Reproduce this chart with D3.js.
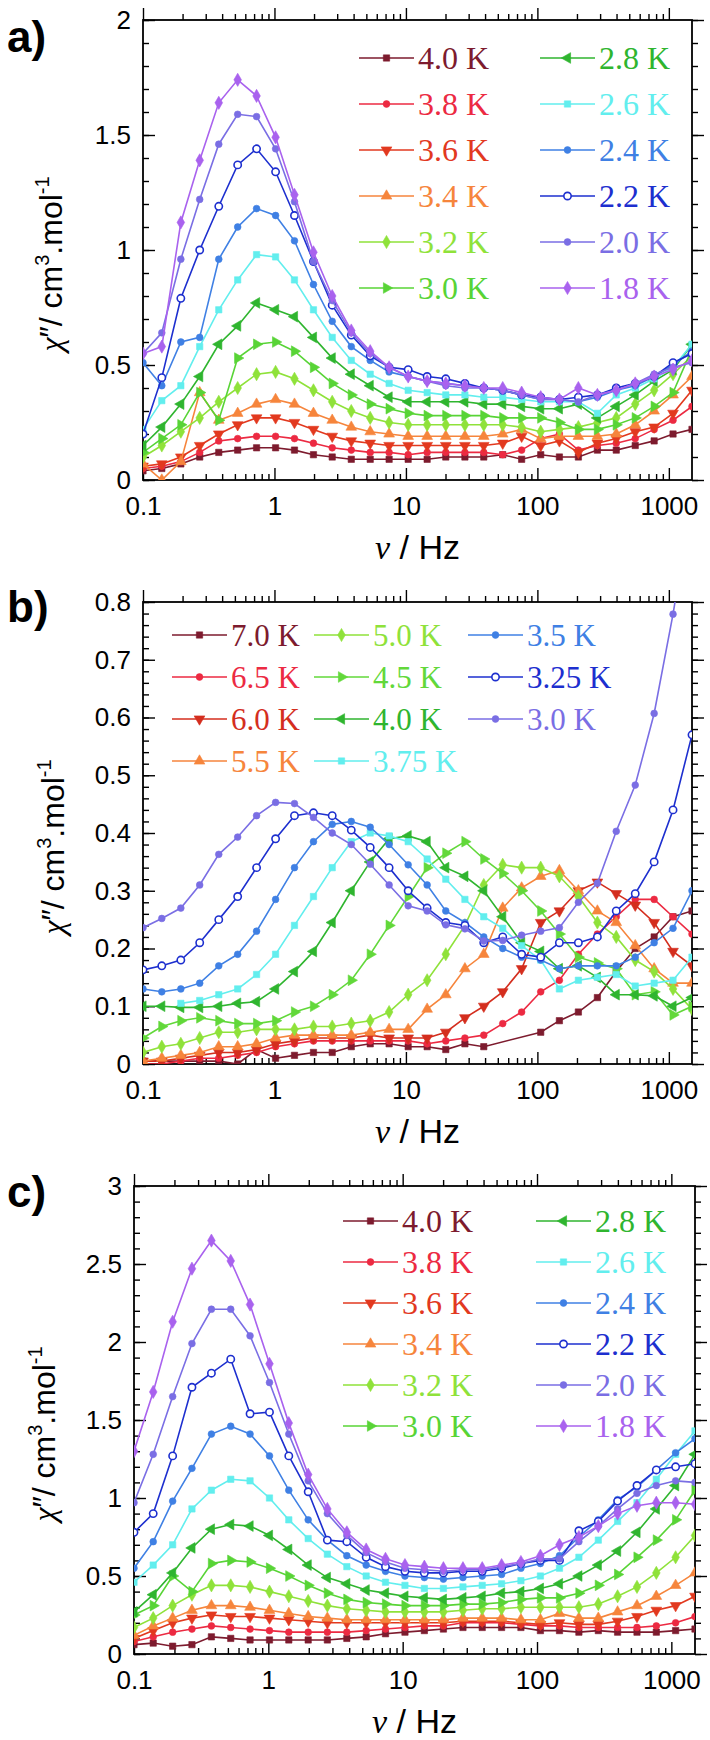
<!DOCTYPE html>
<html>
<head>
<meta charset="utf-8">
<script src="https://cdn.jsdelivr.net/npm/d3@7"></script>
<style>
  body { margin: 0; background: #fff; }
</style>
</head>
<body>
<div id="fig"></div>
<script>
// frequencies (Hz), shared by all panels
const freqs = [0.1, 0.139, 0.194, 0.27, 0.377, 0.525, 0.731, 1.02, 1.42, 1.98, 2.75, 3.84, 5.35, 7.45, 10.4,
  14.5, 20.1, 28.1, 39.1, 54.5, 75.9, 106, 147, 205, 286, 398, 555, 773, 1076, 1500]

// ---- panel a ----
const tempsA = ["4.0 K", "3.8 K", "3.6 K", "3.4 K", "3.2 K", "3.0 K", "2.8 K", "2.6 K", "2.4 K", "2.2 K", "2.0 K", "1.8 K"]
const a40 = [0.04, 0.05, 0.07, 0.10, 0.12, 0.13, 0.14, 0.14, 0.13, 0.11, 0.10, 0.09, 0.09, 0.09, 0.09, 0.09, 0.10, 0.10, 0.10, 0.11, 0.09, 0.11, 0.10, 0.10, 0.13, 0.13, 0.15, 0.17, 0.20, 0.22]
const a38 = [0.05, 0.06, 0.08, 0.12, 0.17, 0.18, 0.19, 0.19, 0.18, 0.16, 0.14, 0.13, 0.12, 0.12, 0.11, 0.12, 0.12, 0.12, 0.12, 0.11, 0.13, 0.18, 0.20, 0.13, 0.15, 0.16, 0.18, 0.22, 0.26, 0.32]
const a36 = [0.06, 0.07, 0.10, 0.15, 0.20, 0.24, 0.27, 0.27, 0.25, 0.22, 0.19, 0.17, 0.16, 0.15, 0.15, 0.15, 0.15, 0.15, 0.15, 0.16, 0.19, 0.15, 0.17, 0.12, 0.16, 0.18, 0.21, 0.23, 0.29, 0.39]
const a34 = [0.07, 0.0, 0.08, 0.38, 0.26, 0.29, 0.33, 0.35, 0.33, 0.29, 0.26, 0.23, 0.21, 0.20, 0.19, 0.19, 0.19, 0.19, 0.19, 0.20, 0.22, 0.18, 0.19, 0.19, 0.19, 0.20, 0.24, 0.30, 0.37, 0.45]
const a32 = [0.10, 0.15, 0.21, 0.27, 0.34, 0.40, 0.46, 0.47, 0.44, 0.39, 0.34, 0.30, 0.27, 0.25, 0.24, 0.24, 0.24, 0.24, 0.24, 0.24, 0.23, 0.21, 0.22, 0.23, 0.25, 0.27, 0.33, 0.39, 0.46, 0.54]
const a30 = [0.12, 0.18, 0.24, 0.38, 0.26, 0.53, 0.59, 0.60, 0.56, 0.49, 0.42, 0.37, 0.33, 0.31, 0.29, 0.28, 0.28, 0.28, 0.28, 0.27, 0.27, 0.27, 0.25, 0.22, 0.22, 0.24, 0.27, 0.32, 0.38, 0.57]
const a28 = [0.15, 0.23, 0.33, 0.45, 0.59, 0.67, 0.77, 0.74, 0.71, 0.62, 0.53, 0.46, 0.41, 0.36, 0.34, 0.34, 0.34, 0.34, 0.33, 0.33, 0.32, 0.31, 0.31, 0.33, 0.27, 0.32, 0.37, 0.43, 0.48, 0.59]
const a26 = [0.22, 0.345, 0.41, 0.58, 0.74, 0.87, 0.98, 0.97, 0.87, 0.74, 0.62, 0.52, 0.46, 0.42, 0.39, 0.38, 0.37, 0.37, 0.36, 0.36, 0.35, 0.34, 0.34, 0.34, 0.29, 0.37, 0.40, 0.44, 0.49, 0.59]
const a24 = [0.51, 0.41, 0.60, 0.62, 0.96, 1.10, 1.18, 1.15, 1.04, 0.85, 0.69, 0.58, 0.52, 0.47, 0.45, 0.43, 0.42, 0.41, 0.40, 0.39, 0.37, 0.35, 0.35, 0.34, 0.36, 0.39, 0.41, 0.45, 0.50, 0.56]
const a22 = [0.20, 0.445, 0.79, 1.00, 1.19, 1.37, 1.44, 1.34, 1.15, 0.95, 0.76, 0.63, 0.54, 0.49, 0.48, 0.45, 0.44, 0.42, 0.40, 0.39, 0.37, 0.36, 0.35, 0.36, 0.37, 0.40, 0.42, 0.45, 0.51, 0.55]
const a20 = [0.55, 0.64, 0.96, 1.22, 1.46, 1.59, 1.58, 1.44, 1.21, 0.95, 0.78, 0.64, 0.55, 0.49, 0.45, 0.43, 0.41, 0.40, 0.40, 0.39, 0.37, 0.35, 0.35, 0.34, 0.37, 0.39, 0.42, 0.46, 0.49, 0.51]
const a18 = [0.55, 0.58, 1.12, 1.39, 1.64, 1.74, 1.67, 1.49, 1.24, 0.99, 0.80, 0.65, 0.56, 0.49, 0.45, 0.43, 0.42, 0.41, 0.40, 0.40, 0.38, 0.36, 0.35, 0.40, 0.37, 0.39, 0.42, 0.45, 0.48, 0.52]
const valuesA = [a40, a38, a36, a34, a32, a30, a28, a26, a24, a22, a20, a18]
const yTicksA = [0, 0.5, 1, 1.5, 2]

// ---- panel b ----
const tempsB = ["7.0 K", "6.5 K", "6.0 K", "5.5 K", "5.0 K", "4.5 K", "4.0 K", "3.75 K", "3.5 K", "3.25 K", "3.0 K"]
const b70 = [0.005, 0.005, 0.005, 0.005, 0.005, 0.0, 0.025, 0.01, 0.015, 0.02, 0.02, 0.03, 0.035, 0.035, 0.03, 0.03, 0.025, 0.035, 0.03, null, null, 0.055, 0.075, 0.09, 0.115, 0.16, 0.20, 0.22, 0.255, 0.265]
const b65 = [0.0, 0.0, 0.005, 0.01, 0.01, 0.015, 0.02, 0.03, 0.035, 0.04, 0.04, 0.04, 0.04, 0.04, 0.04, 0.035, 0.04, 0.045, 0.05, 0.07, 0.09, 0.125, 0.145, 0.19, 0.225, 0.255, 0.285, 0.285, 0.255, 0.225]
const b60 = [0.005, 0.005, 0.01, 0.015, 0.02, 0.02, 0.025, 0.035, 0.04, 0.045, 0.045, 0.045, 0.05, 0.045, 0.045, 0.045, 0.055, 0.08, 0.10, 0.125, 0.165, 0.245, 0.265, 0.30, 0.315, 0.295, 0.275, 0.245, 0.195, 0.17]
const b55 = [0.005, 0.01, 0.015, 0.02, 0.03, 0.03, 0.035, 0.045, 0.05, 0.05, 0.05, 0.05, 0.055, 0.06, 0.06, 0.095, 0.12, 0.165, 0.19, 0.27, 0.305, 0.325, 0.335, 0.30, 0.265, 0.245, 0.205, 0.165, 0.14, 0.14]
const b50 = [0.02, 0.03, 0.035, 0.045, 0.055, 0.055, 0.06, 0.06, 0.06, 0.065, 0.065, 0.07, 0.075, 0.09, 0.12, 0.145, 0.19, 0.24, 0.31, 0.345, 0.34, 0.34, 0.325, 0.29, 0.245, 0.22, 0.18, 0.16, 0.13, 0.095]
const b45 = [0.045, 0.065, 0.075, 0.08, 0.075, 0.07, 0.07, 0.075, 0.09, 0.10, 0.12, 0.145, 0.19, 0.24, 0.29, 0.34, 0.365, 0.385, 0.355, 0.33, 0.30, 0.265, 0.225, 0.185, 0.175, 0.165, 0.12, 0.125, 0.085, 0.10]
const b40 = [0.10, 0.10, 0.098, 0.098, 0.10, 0.105, 0.108, 0.13, 0.16, 0.195, 0.245, 0.30, 0.35, 0.39, 0.395, 0.385, 0.34, 0.325, 0.30, 0.255, 0.21, 0.195, 0.165, 0.17, 0.15, 0.12, 0.12, 0.118, 0.10, 0.115]
const b375 = [null, null, 0.105, 0.11, 0.12, 0.13, 0.155, 0.19, 0.24, 0.29, 0.34, 0.385, 0.40, 0.395, 0.385, 0.355, 0.32, 0.285, 0.255, 0.235, 0.205, 0.18, 0.13, 0.145, 0.15, 0.155, 0.135, 0.14, 0.145, 0.185]
const b35 = [0.13, 0.125, 0.13, 0.14, 0.17, 0.19, 0.23, 0.285, 0.34, 0.385, 0.415, 0.42, 0.41, 0.38, 0.345, 0.31, 0.265, 0.245, 0.22, 0.20, 0.185, 0.18, 0.165, 0.17, 0.17, 0.17, 0.185, 0.21, 0.235, 0.30]
const b325 = [0.163, 0.17, 0.18, 0.21, 0.25, 0.29, 0.34, 0.39, 0.43, 0.435, 0.43, 0.405, 0.375, 0.34, 0.30, 0.27, 0.245, 0.24, 0.21, 0.22, 0.19, 0.185, 0.21, 0.21, 0.22, 0.265, 0.295, 0.35, 0.44, 0.57]
const b30 = [0.236, 0.252, 0.27, 0.31, 0.363, 0.393, 0.43, 0.453, 0.451, 0.427, 0.40, 0.38, 0.346, 0.31, 0.274, 0.265, 0.241, 0.234, 0.213, 0.214, 0.223, 0.23, 0.236, 0.28, 0.313, 0.403, 0.483, 0.607, 0.779, 0.98]
const valuesB = [b70, b65, b60, b55, b50, b45, b40, b375, b35, b325, b30]
const yTicksB = [0, 0.1, 0.2, 0.3, 0.4, 0.5, 0.6, 0.7, 0.8]

// ---- panel c ----
const tempsC = ["4.0 K", "3.8 K", "3.6 K", "3.4 K", "3.2 K", "3.0 K", "2.8 K", "2.6 K", "2.4 K", "2.2 K", "2.0 K", "1.8 K"]
const c40 = [0.06, 0.07, 0.05, 0.06, 0.11, 0.10, 0.09, 0.09, 0.09, 0.09, 0.09, 0.10, 0.11, 0.13, 0.14, 0.15, 0.16, 0.17, 0.17, 0.17, 0.17, 0.15, 0.15, 0.14, 0.15, 0.14, 0.14, 0.14, 0.15, 0.16]
const c38 = [0.08, 0.11, 0.14, 0.16, 0.18, 0.17, 0.16, 0.15, 0.14, 0.14, 0.14, 0.14, 0.15, 0.16, 0.17, 0.18, 0.18, 0.20, 0.20, 0.20, 0.19, 0.18, 0.18, 0.17, 0.17, 0.17, 0.17, 0.18, 0.20, 0.24]
const c36 = [0.10, 0.15, 0.20, 0.23, 0.25, 0.24, 0.24, 0.23, 0.22, 0.21, 0.20, 0.20, 0.20, 0.20, 0.20, 0.20, 0.20, 0.21, 0.21, 0.21, 0.20, 0.19, 0.20, 0.19, 0.19, 0.21, 0.24, 0.28, 0.31, 0.37]
const c34 = [0.12, 0.18, 0.23, 0.28, 0.31, 0.31, 0.30, 0.28, 0.26, 0.24, 0.23, 0.22, 0.22, 0.22, 0.22, 0.22, 0.22, 0.23, 0.23, 0.23, 0.22, 0.22, 0.26, 0.23, 0.23, 0.27, 0.31, 0.37, 0.44, 0.52]
const c32 = [0.17, 0.23, 0.31, 0.38, 0.44, 0.44, 0.43, 0.40, 0.37, 0.34, 0.31, 0.29, 0.28, 0.27, 0.27, 0.27, 0.27, 0.28, 0.29, 0.29, 0.30, 0.30, 0.30, 0.30, 0.32, 0.37, 0.43, 0.52, 0.62, 0.76]
const c30 = [0.25, 0.31, 0.50, 0.40, 0.58, 0.60, 0.59, 0.55, 0.50, 0.44, 0.39, 0.35, 0.33, 0.32, 0.31, 0.31, 0.31, 0.32, 0.32, 0.33, 0.35, 0.36, 0.36, 0.39, 0.44, 0.51, 0.62, 0.73, 0.86, 1.05]
const c28 = [0.27, 0.38, 0.52, 0.68, 0.80, 0.83, 0.82, 0.76, 0.67, 0.57, 0.49, 0.45, 0.41, 0.39, 0.37, 0.36, 0.35, 0.36, 0.37, 0.39, 0.40, 0.42, 0.45, 0.50, 0.57, 0.66, 0.78, 0.93, 1.08, 1.28]
const c26 = [0.46, 0.57, 0.70, 0.93, 1.05, 1.12, 1.11, 1.00, 0.86, 0.74, 0.64, 0.56, 0.50, 0.46, 0.44, 0.42, 0.42, 0.43, 0.44, 0.45, 0.47, 0.50, 0.55, 0.62, 0.73, 0.85, 0.97, 1.12, 1.28, 1.43]
const c24 = [0.55, 0.72, 0.98, 1.19, 1.41, 1.46, 1.41, 1.27, 1.05, 0.86, 0.73, 0.63, 0.57, 0.53, 0.50, 0.49, 0.48, 0.49, 0.50, 0.51, 0.55, 0.58, 0.63, 0.75, 0.86, 0.99, 1.07, 1.18, 1.29, 1.38]
const c22 = [0.78, 0.90, 1.27, 1.71, 1.80, 1.89, 1.54, 1.55, 1.27, 1.04, 0.73, 0.72, 0.62, 0.56, 0.53, 0.52, 0.52, 0.53, 0.53, 0.55, 0.58, 0.60, 0.60, 0.79, 0.85, 0.98, 1.08, 1.18, 1.20, 1.22]
const c20 = [0.97, 1.28, 1.65, 1.99, 2.21, 2.21, 2.04, 1.74, 1.41, 1.11, 0.90, 0.76, 0.65, 0.59, 0.55, 0.54, 0.53, 0.54, 0.54, 0.56, 0.58, 0.61, 0.61, 0.72, 0.82, 0.93, 1.03, 1.08, 1.11, 1.10]
const c18 = [1.30, 1.68, 2.13, 2.47, 2.65, 2.52, 2.24, 1.86, 1.48, 1.15, 0.93, 0.78, 0.67, 0.61, 0.57, 0.56, 0.55, 0.55, 0.55, 0.57, 0.59, 0.63, 0.70, 0.75, 0.82, 0.90, 0.95, 0.97, 0.97, 0.96]
const valuesC = [c40, c38, c36, c34, c32, c30, c28, c26, c24, c22, c20, c18]
const yTicksC = [0, 0.5, 1, 1.5, 2, 2.5, 3]

const xTicks = [0.1, 1, 10, 100, 1000]

// styles (colour + marker per series)
const coloursLowT = ["#7d1b2e", "#ec2a42", "#e2391f", "#f6853c", "#8fe23a", "#58d436", "#2fb52f", "#62eeee", "#3f80e4", "#1d2fcf", "#7a6ee4", "#a962ee"]
const markersLowT = ["square", "circle", "down", "up", "diamond", "right", "left", "square", "circle", "open", "circle", "diamond"]
const coloursB = ["#7d1b2e", "#ec2a42", "#d42e1e", "#f6853c", "#8fe23a", "#62d83a", "#2fb52f", "#62eeee", "#3f80e4", "#1d2fcf", "#7a6ee4"]
const markersB = ["square", "circle", "down", "up", "diamond", "right", "left", "square", "circle", "open", "circle"]

const W = 710, H = 1740
const svg = d3.select("#fig").append("svg").attr("width", W).attr("height", H)

const sans = "'Liberation Sans', Arial, sans-serif"
const serif = "'Liberation Serif', 'Times New Roman', serif"

function marker(sel, type, colour) {
  const sym = d3.symbol()
  let rot = 0
  if (type === "square") sym.type(d3.symbolSquare).size(40)
  else if (type === "circle") sym.type(d3.symbolCircle).size(36)
  else if (type === "open") sym.type(d3.symbolCircle).size(42)
  else if (type === "diamond") sym.type(d3.symbolDiamond).size(50)
  else { sym.type(d3.symbolTriangle).size(50); rot = {up: 0, down: 180, right: 90, left: -90}[type] }
  sel.append("path")
    .attr("d", sym())
    .attr("transform", d => `translate(${d[0]},${d[1]}) rotate(${rot})`)
    .attr("fill", type === "open" ? "#fff" : colour)
    .attr("stroke", colour)
    .attr("stroke-width", type === "open" ? 1.6 : 0.6)
}

function drawPanel(p) {
  const x = d3.scaleLog().domain([0.1, 1500]).range([p.left, p.right])
  const y = d3.scaleLinear().domain([0, p.yMax]).range([p.bottom, p.top])
  const g = svg.append("g")

  const clipId = "clip-" + p.name
  svg.append("clipPath").attr("id", clipId)
    .append("rect").attr("x", p.left).attr("y", p.top)
    .attr("width", p.right - p.left).attr("height", p.bottom - p.top)

  // minor tick values
  const xMinor = []
  xTicks.forEach(d => { for (let k = 2; k < 10; k++) if (d * k <= 1500) xMinor.push(d * k) })
  const yMinor = d3.range(0, p.yMax + 1e-9, p.yMinorStep)

  const axes = [
    [d3.axisBottom(x), p.bottom], [d3.axisTop(x), p.top]
  ]
  axes.forEach(([ax, ty], i) => {
    g.append("g").attr("transform", `translate(0,${ty})`)
      .call(ax.tickValues(xMinor).tickSize(i === 0 ? -6 : 6).tickFormat(""))
    const big = g.append("g").attr("transform", `translate(0,${ty})`)
      .call(ax.tickValues(xTicks).tickSize(i === 0 ? -12 : 12).tickPadding(17)
        .tickFormat(i === 0 ? d3.format("~g") : ""))
    big.selectAll("text").attr("font-family", sans).attr("font-size", 26).attr("fill", "#000")
  })
  const yAxes = [[d3.axisLeft(y), p.left], [d3.axisRight(y), p.right]]
  yAxes.forEach(([ax, tx], i) => {
    g.append("g").attr("transform", `translate(${tx},0)`)
      .call(ax.tickValues(yMinor).tickSize(i === 0 ? -6 : 6).tickFormat(""))
    const big = g.append("g").attr("transform", `translate(${tx},0)`)
      .call(ax.tickValues(p.yTicks).tickSize(i === 0 ? -12 : 12).tickPadding(12)
        .tickFormat(i === 0 ? d3.format("~g") : ""))
    big.selectAll("text").attr("font-family", sans).attr("font-size", 26).attr("fill", "#000")
  })
  g.selectAll(".domain").remove()
  g.selectAll(".tick line").attr("stroke", "#000").attr("stroke-width", 1.4)

  g.append("rect")
    .attr("x", p.left).attr("y", p.top)
    .attr("width", p.right - p.left).attr("height", p.bottom - p.top)
    .attr("fill", "none").attr("stroke", "#000").attr("stroke-width", 1.8)

  // data
  const plot = g.append("g").attr("clip-path", `url(#${clipId})`)
  const line = d3.line()
  p.values.forEach((vals, i) => {
    const pts = freqs.map((f, j) => [f, vals[j]]).filter(d => d[1] !== null)
      .map(d => [x(d[0]), y(d[1])])
    plot.append("path").attr("d", line(pts))
      .attr("fill", "none").attr("stroke", p.colours[i]).attr("stroke-width", 1.6)
    marker(plot.append("g").selectAll("g").data(pts).join("g"), p.markers[i], p.colours[i])
  })

  // legend
  p.temps.forEach((t, i) => {
    const col = Math.floor(i / p.legRows), row = i % p.legRows
    const lx = p.legCols[col], ly = p.legTop + row * p.legStep
    const lg = g.append("g")
    lg.append("line").attr("x1", lx).attr("x2", lx + p.legLen).attr("y1", ly).attr("y2", ly)
      .attr("stroke", p.colours[i]).attr("stroke-width", 1.6)
    marker(lg.selectAll("g").data([[lx + p.legLen / 2, ly]]).join("g"), p.markers[i], p.colours[i])
    lg.append("text").attr("x", lx + p.legLen + 4).attr("y", ly).attr("dy", "0.34em")
      .attr("font-family", serif).attr("font-size", p.legFont)
      .attr("fill", p.colours[i]).text(t)
  })

  // axis titles
  const yt = g.append("text")
    .attr("transform", `translate(${p.yTitleX},${(p.top + p.bottom) / 2 + 14}) rotate(-90)`)
    .attr("text-anchor", "middle").attr("font-family", sans).attr("font-size", 32)
  yt.append("tspan").attr("font-family", serif).attr("font-style", "italic").text("χ")
  yt.append("tspan").text("″/ cm")
  yt.append("tspan").attr("font-size", 20).attr("dy", -13).text("3")
  yt.append("tspan").attr("dy", 13).text(".mol")
  yt.append("tspan").attr("font-size", 20).attr("dy", -13).text("-1")

  const xt = g.append("text")
    .attr("x", (p.left + p.right) / 2).attr("y", p.bottom + 79)
    .attr("text-anchor", "middle").attr("font-family", sans).attr("font-size", 34)
  xt.append("tspan").attr("font-family", serif).attr("font-style", "italic").text("ν")
  xt.append("tspan").text(" / Hz")

  g.append("text").attr("x", 7).attr("y", p.labelY)
    .attr("font-family", sans).attr("font-weight", "bold").attr("font-size", 44).text(p.name + ")")
}

drawPanel({
  name: "a", left: 143, right: 692, top: 20, bottom: 480, yMax: 2, yTicks: yTicksA, yMinorStep: 0.1,
  values: valuesA, temps: tempsA, colours: coloursLowT, markers: markersLowT,
  legCols: [359, 540], legTop: 58, legStep: 46, legRows: 6, legLen: 55, legFont: 32,
  yTitleX: 62, labelY: 52
})
drawPanel({
  name: "b", left: 143, right: 692, top: 602, bottom: 1064, yMax: 0.8, yTicks: yTicksB, yMinorStep: 0.02,
  values: valuesB, temps: tempsB, colours: coloursB, markers: markersB,
  legCols: [172, 314, 468], legTop: 635, legStep: 42, legRows: 4, legLen: 55, legFont: 31,
  yTitleX: 64, labelY: 622
})
drawPanel({
  name: "c", left: 134, right: 695, top: 1186, bottom: 1654, yMax: 3, yTicks: yTicksC, yMinorStep: 0.1,
  values: valuesC, temps: tempsC, colours: coloursLowT, markers: markersLowT,
  legCols: [343, 536], legTop: 1221, legStep: 41, legRows: 6, legLen: 55, legFont: 32,
  yTitleX: 55, labelY: 1207
})
</script>
</body>
</html>
